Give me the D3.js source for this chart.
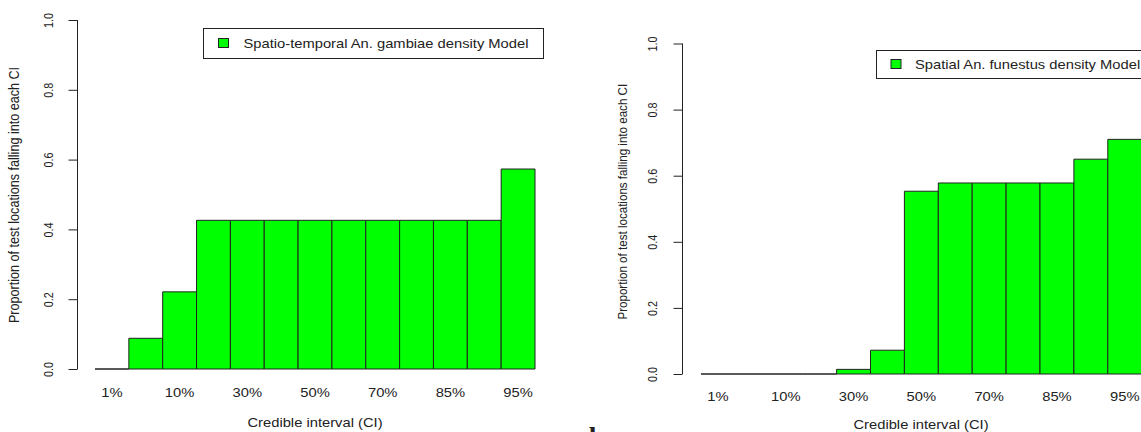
<!DOCTYPE html>
<html>
<head>
<meta charset="utf-8">
<script src="https://cdn.jsdelivr.net/npm/d3@7"></script>
<style>
  html, body { margin: 0; padding: 0; background: #fff; }
  svg { display: block; }
  text { font-family: "Liberation Sans", Arial, sans-serif; fill: #222; }
</style>
</head>
<body>
<svg id="chart" width="1141" height="432"></svg>
<script>
// Credible-interval categories (one bar each)
const categories = ["1%", "5%", "10%", "20%", "30%", "40%", "50%", "60%", "70%", "80%", "85%", "90%", "95%"];
// Labels printed under the bars (alternate categories)
const shownLabels = ["1%", "10%", "30%", "50%", "70%", "85%", "95%"];
// Proportion of test locations falling into each CI
const gambiaeValues = [0, 0.088, 0.221, 0.426, 0.426, 0.426, 0.426, 0.426, 0.426, 0.426, 0.426, 0.426, 0.573];
const funestusValues = [0, 0, 0, 0, 0.014, 0.072, 0.553, 0.578, 0.578, 0.578, 0.578, 0.650, 0.710];
const yTicks = [0, 0.2, 0.4, 0.6, 0.8, 1.0];
const legendNames = ["Spatio-temporal An. gambiae density Model", "Spatial An. funestus density Model"];

const svg = d3.select("#chart");
const GREEN = "#00ff00";
const INK = "#222";
// the device was wider than tall: glyphs are stretched horizontally
const SX = 1.17;
const FS = 12.6;

function hText(parent, cx, cy, str, anchor) {
  return parent.append("text")
    .attr("transform", `translate(${cx},${cy}) scale(${SX},1)`)
    .attr("text-anchor", anchor || "middle")
    .attr("dominant-baseline", "central")
    .style("font-size", FS + "px")
    .text(str);
}

function vText(parent, cx, cy, str, size) {
  return parent.append("text")
    .attr("transform", `translate(${cx},${cy}) scale(${SX},1) rotate(-90)`)
    .attr("text-anchor", "middle")
    .attr("dominant-baseline", "central")
    .style("font-size", size + "px")
    .text(str);
}

function drawPanel(cfg) {
  const x = d3.scaleBand().domain(categories).range([cfg.x0, cfg.x1]).paddingInner(0).paddingOuter(0);
  const y = d3.scaleLinear().domain([0, 1]).range([cfg.yBottom, cfg.yTop]);
  const g = svg.append("g");

  // bars drawn as closed outlines so empty bins still show their base edge
  g.selectAll("path.bar")
    .data(cfg.values.map((v, i) => ({ c: categories[i], v })))
    .join("path")
    .attr("class", "bar")
    .attr("d", d => {
      const xl = x(d.c), xr = x(d.c) + x.bandwidth();
      const yb = y(0), yt = y(d.v);
      return `M${xl},${yb}L${xl},${yt}L${xr},${yt}L${xr},${yb}Z`;
    })
    .attr("fill", GREEN)
    .attr("stroke", INK)
    .attr("stroke-width", 1);

  // y axis (R style: line spans tick range, labels parallel to axis)
  const yAxis = d3.axisLeft(y).tickValues(yTicks).tickSize(9).tickFormat(d3.format(".1f"));
  const ag = g.append("g").attr("transform", `translate(${cfg.axisX},0)`).call(yAxis);
  ag.select(".domain").attr("d", `M0,${y(0)}V${y(1)}`).attr("stroke", INK);
  ag.selectAll(".tick line").attr("stroke", INK);
  ag.selectAll(".tick text")
    .attr("x", null).attr("dy", null)
    .attr("transform", `translate(${cfg.yLabelX - cfg.axisX},0) scale(${SX},1) rotate(-90)`)
    .attr("text-anchor", "middle")
    .attr("dominant-baseline", "central")
    .style("font-family", "Liberation Sans, Arial, sans-serif")
    .style("font-size", cfg.yTickSize + "px")
    .attr("fill", INK);

  // category labels under the bars
  shownLabels.forEach(lab => hText(g, x(lab) + x.bandwidth() / 2, cfg.xLabelY, lab));

  // axis titles
  hText(g, cfg.xTitleX, cfg.xTitleY, "Credible interval (CI)");
  vText(g, cfg.yTitleX, cfg.yTitleY, "Proportion of test locations falling into each CI", cfg.yTitleSize);

  // legend
  const lg = g.append("g");
  lg.append("rect")
    .attr("x", cfg.leg.x).attr("y", cfg.leg.y)
    .attr("width", cfg.leg.w).attr("height", cfg.leg.h)
    .attr("fill", "#fff").attr("stroke", INK).attr("stroke-width", 1);
  lg.append("rect")
    .attr("x", cfg.leg.x + cfg.leg.sq).attr("y", cfg.leg.y + cfg.leg.h / 2 - 5)
    .attr("width", 10).attr("height", 9)
    .attr("fill", GREEN).attr("stroke", INK).attr("stroke-width", 1);
  hText(lg, cfg.leg.x + cfg.leg.tx, cfg.leg.y + cfg.leg.h / 2, cfg.name, "start");
}

drawPanel({
  values: gambiaeValues, name: legendNames[0],
  x0: 95, x1: 535, yTop: 20, yBottom: 369,
  axisX: 77.5, yLabelX: 48.5, yTickSize: 10.8,
  xLabelY: 392.5, xTitleX: 315, xTitleY: 423,
  yTitleX: 14.5, yTitleY: 195, yTitleSize: 12.6,
  leg: { x: 203.5, y: 28.5, w: 340, h: 30, sq: 15, tx: 40 }
});

drawPanel({
  values: funestusValues, name: legendNames[1],
  x0: 701, x1: 1141.7, yTop: 43.5, yBottom: 374,
  axisX: 682.5, yLabelX: 652, yTickSize: 10.8,
  xLabelY: 396.5, xTitleX: 921, xTitleY: 425,
  yTitleX: 623, yTitleY: 201.7, yTitleSize: 11.6,
  leg: { x: 876.5, y: 50.5, w: 300, h: 28, sq: 14.5, tx: 38.5 }
});

// panel letter, mostly below the lower edge
svg.append("text")
  .attr("x", 589).attr("y", 446)
  .style("font-family", "Liberation Serif, Times New Roman, serif")
  .style("font-weight", "bold")
  .style("font-size", "28px")
  .attr("fill", "#000")
  .text("b");
</script>
</body>
</html>
